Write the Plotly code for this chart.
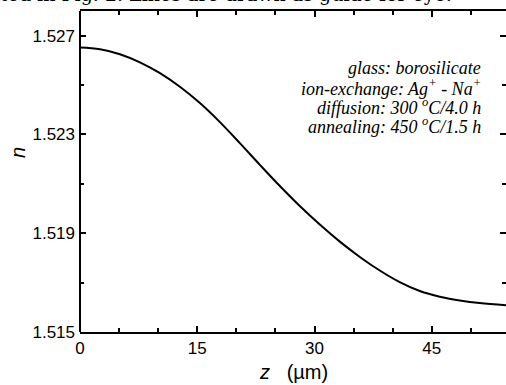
import plotly.graph_objects as go

# data
z_um = [0.0, 2.56, 5.11, 7.67, 10.23, 12.78, 15.34, 17.9, 20.45, 23.01, 25.57, 28.12,
        30.68, 33.24, 35.8, 38.35, 40.9, 43.47, 46.02, 48.58, 51.14, 54.5]
n_index = [1.52652, 1.52645, 1.52625, 1.52592, 1.52548, 1.52493, 1.52427, 1.52350,
           1.52265, 1.52177, 1.52091, 1.52010, 1.51935, 1.51866, 1.51804, 1.51749,
           1.51702, 1.51666, 1.51643, 1.51628, 1.51617, 1.51608]
x_ticks = [0, 15, 30, 45]
y_ticks = [1.515, 1.519, 1.523, 1.527]
info_lines = [
    "glass: borosilicate",
    "ion-exchange: Ag<sup>+</sup> - Na<sup>+</sup>",
    "diffusion: 300 <sup>o</sup>C/4.0 h",
    "annealing: 450 <sup>o</sup>C/1.5 h",
]
caption_text = "ted in Fig. 2. Lines are drawn as guide for eye."

W, H = 506, 385
L, R, T, B = 80, 0, 11, 53
PW, PH = W - L - R, H - T - B

def px(xp):
    return (xp - L) / PW

def py(yp):
    return (H - B - yp) / PH

fig = go.Figure()
fig.add_trace(go.Scatter(x=z_um, y=n_index, mode="lines",
                         line=dict(color="black", width=2, shape="spline", smoothing=1.0),
                         showlegend=False, hoverinfo="skip"))

tickfont = dict(family="Liberation Sans, Arial", size=17, color="black")
minor = dict(ticks="inside", ticklen=4, tickwidth=1.5, tickcolor="black")

fig.update_xaxes(range=[0, 54.5], tickvals=x_ticks, ticktext=[str(v) for v in x_ticks],
                 showline=True, linecolor="black", linewidth=2, mirror="ticks",
                 ticks="inside", tickcolor="black", tickwidth=1.5, ticklen=6,
                 showgrid=False, zeroline=False, tickfont=tickfont,
                 minor=dict(dtick=5, tick0=0, **minor))
fig.update_yaxes(range=[1.515, 1.528], tickvals=y_ticks, ticktext=["%.3f" % v for v in y_ticks],
                 showline=False, mirror="ticks",
                 ticks="inside", tickcolor="black", tickwidth=1.5, ticklen=6,
                 showgrid=False, zeroline=False, tickfont=tickfont, ticklabelstandoff=4,
                 minor=dict(dtick=0.002, tick0=1.515, **minor))

# left axis line (right frame edge lies outside the visible picture)
fig.add_shape(type="line", xref="paper", yref="paper", x0=0, x1=0, y0=0, y1=1,
              line=dict(color="black", width=2), layer="above")

annotations = []
base_y = [68, 87, 106, 125]
for txt, yy in zip(info_lines, base_y):
    annotations.append(dict(text="<i>" + txt + "</i>", xref="paper", yref="paper",
                            x=px(483), y=py(yy), xanchor="right", yanchor="middle",
                            showarrow=False,
                            font=dict(family="Liberation Serif, Times New Roman", size=18, color="black")))
annotations.append(dict(text="<i>z</i>   (µm)", xref="paper", yref="paper",
                        x=px(293), y=py(372), xanchor="center", yanchor="middle", showarrow=False,
                        font=dict(family="Liberation Sans, Arial", size=20, color="black")))
annotations.append(dict(text="<i>n</i>", xref="paper", yref="paper",
                        x=px(18), y=py(153), xanchor="center", yanchor="middle", showarrow=False,
                        textangle=-90,
                        font=dict(family="Liberation Sans, Arial", size=20, color="black")))
annotations.append(dict(text=caption_text, xref="paper", yref="paper",
                        x=px(-2), y=py(-6), xanchor="left", yanchor="middle", showarrow=False,
                        font=dict(family="DejaVu Serif", size=19, color="black")))

fig.update_layout(width=W, height=H, margin=dict(l=L, r=R, t=T, b=B),
                  paper_bgcolor="white", plot_bgcolor="white", annotations=annotations)

fig.write_html("out.html")
